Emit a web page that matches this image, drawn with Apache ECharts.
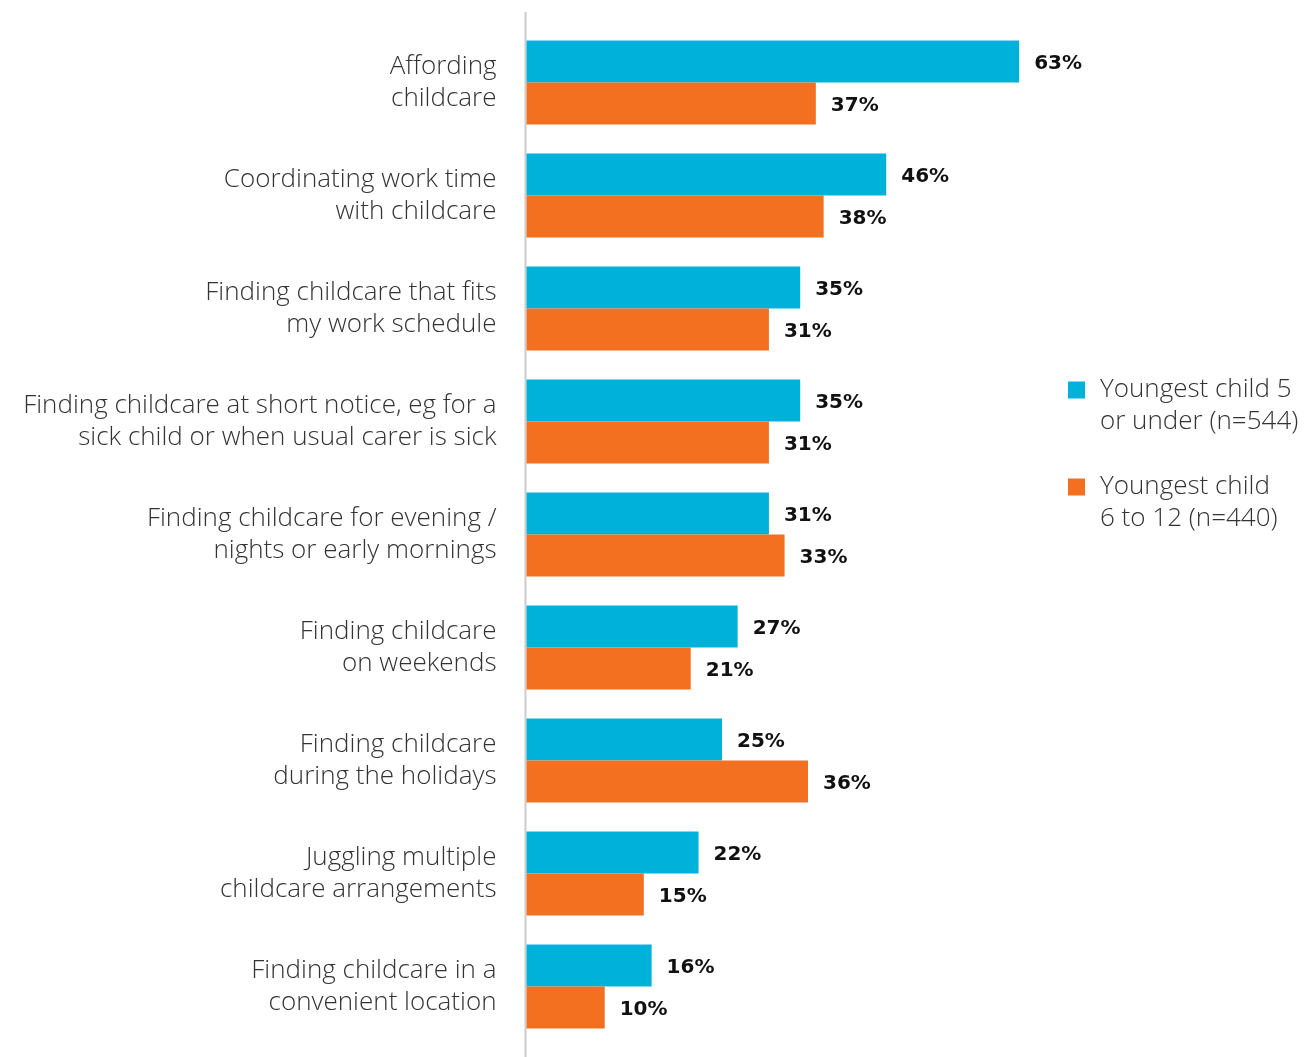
<!DOCTYPE html>
<html>
<head>
<meta charset="utf-8">
<title>Childcare difficulties by age of youngest child</title>
<script src="https://cdn.jsdelivr.net/npm/echarts@6/dist/echarts.min.js"></script>
<style>
  html, body { margin: 0; padding: 0; background: #ffffff; }
  #chart { width: 1311px; height: 1057px; }
</style>
</head>
<body>
<div id="chart"></div>
<script>
// Difficulties reported with childcare (% of parents)
const categories = [
  'Affording\nchildcare',
  'Coordinating work time\nwith childcare',
  'Finding childcare that fits\nmy work schedule',
  'Finding childcare at short notice, eg for a\nsick child or when usual carer is sick',
  'Finding childcare for evening /\nnights or early mornings',
  'Finding childcare\non weekends',
  'Finding childcare\nduring the holidays',
  'Juggling multiple\nchildcare arrangements',
  'Finding childcare in a\nconvenient location'
];
const youngest5OrUnder = [63, 46, 35, 35, 31, 27, 25, 22, 16];
const youngest6To12 = [37, 38, 31, 31, 33, 21, 36, 15, 10];
const seriesNames = ['Youngest child 5\nor under (n=544)', 'Youngest child\n6 to 12 (n=440)'];
const seriesColors = ['#00B2DA', '#F37021'];

const chart = echarts.init(document.getElementById('chart'), null, { renderer: 'canvas' });

const valueLabel = {
  show: true,
  position: 'right',
  distance: 15,
  offset: [0, 2],
  formatter: '{c}%',
  fontFamily: '"DejaVu Sans", sans-serif',
  fontWeight: 'bold',
  fontSize: 20,
  color: '#111111'
};

const lightText = {
  fontFamily: '"Open Sans", sans-serif',
  fontWeight: 300,
  fontSize: 26,
  lineHeight: 32,
  color: '#333333'
};

chart.setOption({
  animation: false,
  backgroundColor: '#ffffff',
  grid: { left: 526.5, top: 26, width: 547.4, height: 1017, containLabel: false },
  legend: {
    orient: 'vertical',
    left: 1068,
    top: 342,
    padding: 0,
    itemWidth: 17,
    itemHeight: 17,
    itemGap: 1,
    icon: 'rect',
    selectedMode: false,
    // leading blank line keeps the swatch level with the first text line
    formatter: name => '\n' + name,
    textStyle: Object.assign({}, lightText, { padding: [0, 0, 0, 10] }),
    data: seriesNames
  },
  xAxis: {
    type: 'value',
    min: 0,
    max: 70,
    show: false
  },
  yAxis: {
    type: 'category',
    inverse: true,
    data: categories,
    axisLine: { show: false },
    axisTick: { show: false },
    splitLine: { show: false },
    axisLabel: Object.assign({ margin: 30, align: 'right' }, lightText)
  },
  graphic: [{
    type: 'line',
    shape: { x1: 525.5, y1: 12, x2: 525.5, y2: 1057 },
    style: { stroke: '#cccccc', lineWidth: 2 },
    silent: true
  }],
  series: [
    {
      name: seriesNames[0],
      type: 'bar',
      data: youngest5OrUnder,
      barWidth: 42,
      barGap: '0%',
      itemStyle: { color: seriesColors[0] },
      label: valueLabel
    },
    {
      name: seriesNames[1],
      type: 'bar',
      data: youngest6To12,
      barWidth: 42,
      barGap: '0%',
      itemStyle: { color: seriesColors[1] },
      label: valueLabel
    }
  ]
});
</script>
</body>
</html>
